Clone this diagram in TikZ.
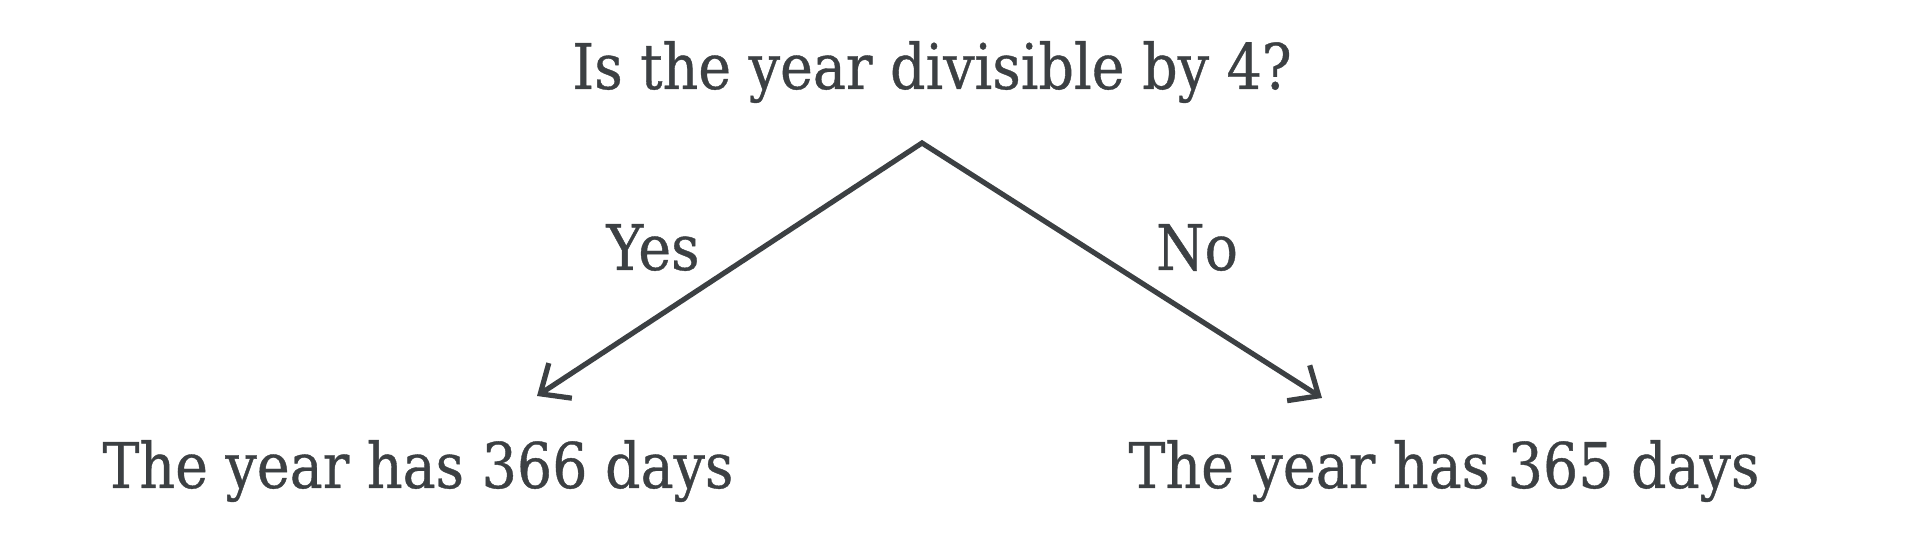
\documentclass[tikz,border=0pt]{standalone}
\usepackage{fontspec}
\setmainfont{DejaVu Serif}[FakeStretch=0.88, FakeBold=0.6]
\usetikzlibrary{arrows.meta}
\definecolor{ink}{RGB}{60,64,67}
\newcommand{\treeFont}[0]{\fontsize{31.5}{38}\selectfont}

\begin{document}
\begin{tikzpicture}[x=0.5pt, y=-0.5pt]
  \tikzset{every node/.style={text=ink, font=\treeFont, inner sep=0pt, anchor=base}}
  \tikzset{branch/.style={draw=ink, line width=2.6pt, line join=miter,
    {Straight Barb[length=12pt,width=21pt]}-{Straight Barb[length=12pt,width=21pt]}}}
  \useasboundingbox (0,0) rectangle (1913,560);
  \node (Q-1) at (932,89) {Is the year divisible by 4?};
  \node (A-1) at (418,488) {The year has 366 days};
  \node (A-2) at (1444,488) {The year has 365 days};
  \node (Yes-1) at (653,270) {Yes};
  \node (No-1) at (1197,270) {No};
  \coordinate (Q-1-split) at (922,143);
  \coordinate (A-1-tip) at (537,396);
  \coordinate (A-2-tip) at (1322,398);
  \draw[branch] (A-1-tip) -- (Q-1-split) -- (A-2-tip);
\end{tikzpicture}
\end{document}
